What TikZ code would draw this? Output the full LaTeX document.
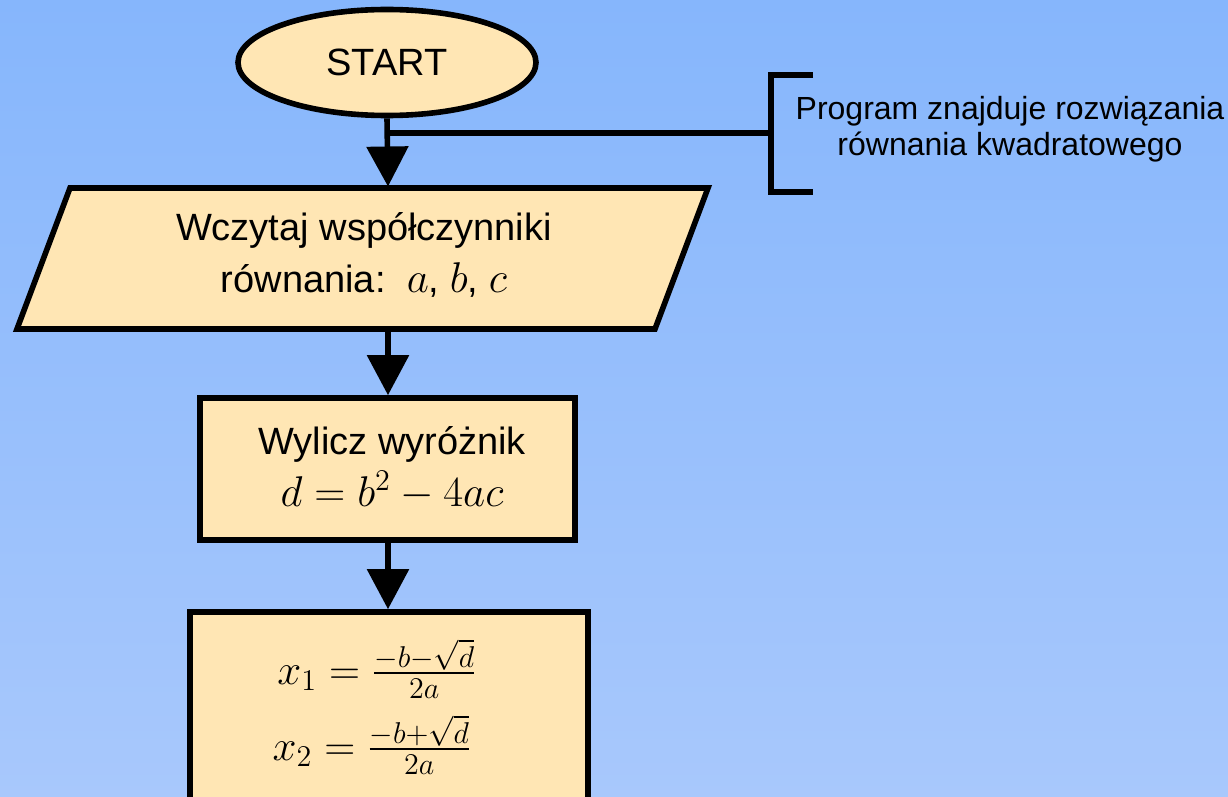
\RequirePackage{fix-cm}
\documentclass[tikz,border=0pt]{standalone}
\usepackage{amsmath}
\usepackage{fontspec}
\setmainfont{Liberation Sans}
\usetikzlibrary{arrows.meta,shapes.geometric}

\definecolor{bgtop}{RGB}{134,182,252}
\definecolor{bgbot}{RGB}{168,200,252}
\definecolor{boxfill}{RGB}{255,230,180}

\newcommand{\mth}[1]{{\fontsize{21.5}{26}\selectfont$#1$}}

\begin{document}
\begin{tikzpicture}[x=0.5pt,y=-0.5pt,
    block/.style={draw, line width=2.8pt, fill=boxfill, inner sep=0pt},
    flow/.style={line width=2.8pt, -{Triangle[length=20pt,width=20.5pt]}},
    font=\fontsize{19}{26}\selectfont]

        % Background
        \clip (0,0) rectangle (1228,797);
        \shade[top color=bgtop, bottom color=bgbot] (0,0) rectangle (1228,797);

        % Start
        \node[block, ellipse, minimum width=149pt, minimum height=53pt] (start) at (387,62.5) {START};

        % Input parallelogram
        \coordinate (p1) at (70,188);
        \coordinate (p2) at (708,188);
        \coordinate (p3) at (655,329);
        \coordinate (p4) at (17,329);
        \filldraw[block, line join=miter] (p1) -- (p2) -- (p3) -- (p4) -- cycle;
        \node[align=center] (read) at (364,255) {Wczytaj współczynniki\\równania:\ \ \mth{a}, \mth{b}, \mth{c}};
        \coordinate (readtop) at (388,186.5);
        \coordinate (readbot) at (388,330.5);

        % Discriminant and roots
        \node[block, minimum width=187.5pt, minimum height=71pt] (calc) at (387.5,469) {};
        \node[align=center] (calctxt) at (392,468) {Wylicz wyróżnik\\\mth{d=b^2-4ac}};
        \node[block, minimum width=199pt, minimum height=120pt] (roots) at (389,732) {};
        \node[inner sep=0pt, font=\fontsize{21.5}{26}\selectfont] (root1) at (377,669) {$x_1=\frac{-b-\sqrt{d}}{2a}$};
        \node[inner sep=0pt, font=\fontsize{21.5}{26}\selectfont] (root2) at (372,745) {$x_2=\frac{-b+\sqrt{d}}{2a}$};

        % Flow arrows
        \draw[flow] (start.south) -- (readtop);
        \draw[flow] (readbot) -- (calc.north -| readbot);
        \draw[flow] (calc.south -| readbot) -- (roots.north -| readbot);

        % Comment
        \coordinate (tap) at (388,133);
        \coordinate (brk) at (771,133);
        \draw[line width=2.8pt] (tap) -- (brk);
        \draw[line width=2.8pt] (813,75) -- (771,75) -- (771,192) -- (813,192);
        \node[align=center, font=\fontsize{16}{18}\selectfont] (note) at (1010,129)
            {Program znajduje rozwiązania\\równania kwadratowego};
\end{tikzpicture}
\end{document}
